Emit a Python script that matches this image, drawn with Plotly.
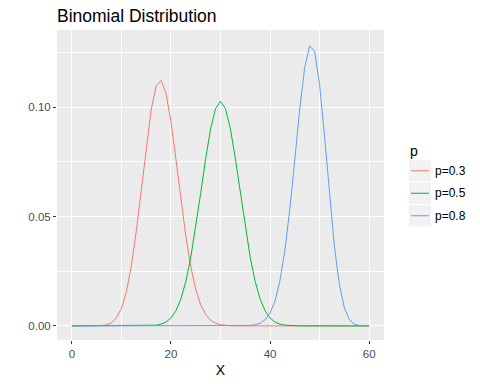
import plotly.graph_objects as go

x_vals = list(range(0, 61))

p03 = [0, 0, 0, 0, 0.00001, 0.00004, 0.00016, 0.00052, 0.00148, 0.00367,
       0.00803, 0.0156, 0.0274, 0.0433, 0.0623, 0.0819, 0.0987, 0.1095, 0.1121, 0.1062,
       0.0933, 0.0762, 0.0579, 0.0410, 0.0271, 0.0167, 0.00964, 0.00520, 0.00263, 0.00124,
       0.00055, 0.00023, 0.00009, 0.00003, 0.00001, 0, 0, 0, 0, 0,
       0, 0, 0, 0, 0, 0, 0, 0, 0, 0,
       0, 0, 0, 0, 0, 0, 0, 0, 0, 0, 0]

p05 = [0, 0, 0, 0, 0, 0, 0, 0, 0, 0,
       0, 0, 0, 0, 0.00002, 0.00005, 0.00013, 0.00034, 0.00080, 0.00177,
       0.00364, 0.00693, 0.01228, 0.02029, 0.03128, 0.04504, 0.06063, 0.07635, 0.08998, 0.09929,
       0.1026, 0.09929, 0.08998, 0.07635, 0.06063, 0.04504, 0.03128, 0.02029, 0.01228, 0.00693,
       0.00364, 0.00177, 0.00080, 0.00034, 0.00013, 0.00005, 0.00002, 0, 0, 0,
       0, 0, 0, 0, 0, 0, 0, 0, 0, 0, 0]

p08 = [0, 0, 0, 0, 0, 0, 0, 0, 0, 0,
       0, 0, 0, 0, 0, 0, 0, 0, 0, 0,
       0, 0, 0, 0, 0, 0, 0, 0, 0, 0,
       0, 0, 0, 0, 0.00002, 0.00007, 0.00020, 0.00051, 0.00123, 0.00279,
       0.00585, 0.0114, 0.0207, 0.0346, 0.0535, 0.0760, 0.0992, 0.1182, 0.1280, 0.1254,
       0.1103, 0.0865, 0.0599, 0.0362, 0.0188, 0.00819, 0.00292, 0.00082, 0.00017, 0.00002, 0]

series_names = ["p=0.3", "p=0.5", "p=0.8"]
series_colors = ["#F8766D", "#00BA38", "#619CFF"]
series_data = [p03, p05, p08]

x_ticks = [0, 20, 40, 60]
y_ticks = [0.0, 0.05, 0.10]
y_tick_labels = ["0.00", "0.05", "0.10"]

W, H = 480, 384
L, R, T, B = 57, 96, 30, 44

fig = go.Figure()
for name, col, ys in zip(series_names, series_colors, series_data):
    fig.add_trace(go.Scatter(x=x_vals, y=ys, mode="lines", name=name,
                             line=dict(color=col, width=1), showlegend=False))

font_family = "Liberation Sans, Arial, sans-serif"

# manual ggplot-style legend (container pixel coordinates -> paper fractions)
pw, ph = W - L - R, H - T - B
def px(xp):
    return (xp - L) / pw
def py(yp):
    return 1 - (yp - T) / ph

shapes = []
annotations = []
annotations.append(dict(text="p", x=px(408), y=py(151), xref="paper", yref="paper",
                        xanchor="left", yanchor="middle", showarrow=False,
                        font=dict(size=14, color="black", family=font_family)))
key_top = 160
key_h = 22.5
for i, (name, col) in enumerate(zip(series_names, series_colors)):
    y0 = key_top + i * key_h
    y1 = y0 + key_h - 1
    shapes.append(dict(type="rect", xref="paper", yref="paper",
                       x0=px(409), x1=px(431), y0=py(y1), y1=py(y0),
                       fillcolor="#F2F2F2", line=dict(width=0), layer="below"))
    ym = (y0 + y1) / 2
    shapes.append(dict(type="line", xref="paper", yref="paper",
                       x0=px(411), x1=px(429), y0=py(ym), y1=py(ym),
                       line=dict(color=col, width=1)))
    annotations.append(dict(text=name, x=px(433), y=py(ym), xref="paper", yref="paper",
                            xanchor="left", yanchor="middle", showarrow=False,
                            font=dict(size=12, color="black", family=font_family)))

fig.update_layout(
    width=W, height=H,
    margin=dict(l=L, r=R, t=T, b=B, autoexpand=False),
    paper_bgcolor="white",
    plot_bgcolor="#EBEBEB",
    font=dict(family=font_family, color="#4D4D4D", size=11),
    title=dict(text="Binomial Distribution", x=57/W, xanchor="left", xref="container",
               y=1-16/H, yanchor="middle", yref="container",
               font=dict(size=17.5, color="black", family=font_family)),
    xaxis=dict(range=[-3, 63], tickvals=x_ticks, showgrid=True, gridcolor="white",
               gridwidth=1.1, zeroline=False, ticks="outside", ticklen=3,
               tickcolor="#333333", tickwidth=1, automargin=False,
               tickfont=dict(size=11.5, color="#4D4D4D"),
               minor=dict(tickvals=[10, 30, 50], showgrid=True, gridcolor="white",
                          gridwidth=0.5, ticks=""),
               title=dict(text="X", font=dict(size=14, color="black"), standoff=6)),
    yaxis=dict(range=[-0.00644, 0.1352], tickvals=y_ticks, ticktext=y_tick_labels,
               showgrid=True, gridcolor="white", gridwidth=1.1, zeroline=False,
               ticks="outside", ticklen=3, tickcolor="#333333", tickwidth=1,
               automargin=False,
               tickfont=dict(size=11.5, color="#4D4D4D"),
               minor=dict(tickvals=[0.025, 0.075, 0.125], showgrid=True,
                          gridcolor="white", gridwidth=0.5, ticks="")),
    showlegend=False,
    shapes=shapes,
    annotations=annotations,
)

fig.write_html("out.html", config={"displayModeBar": False},
               post_script="document.body.style.margin='0';document.body.style.overflow='hidden';")
